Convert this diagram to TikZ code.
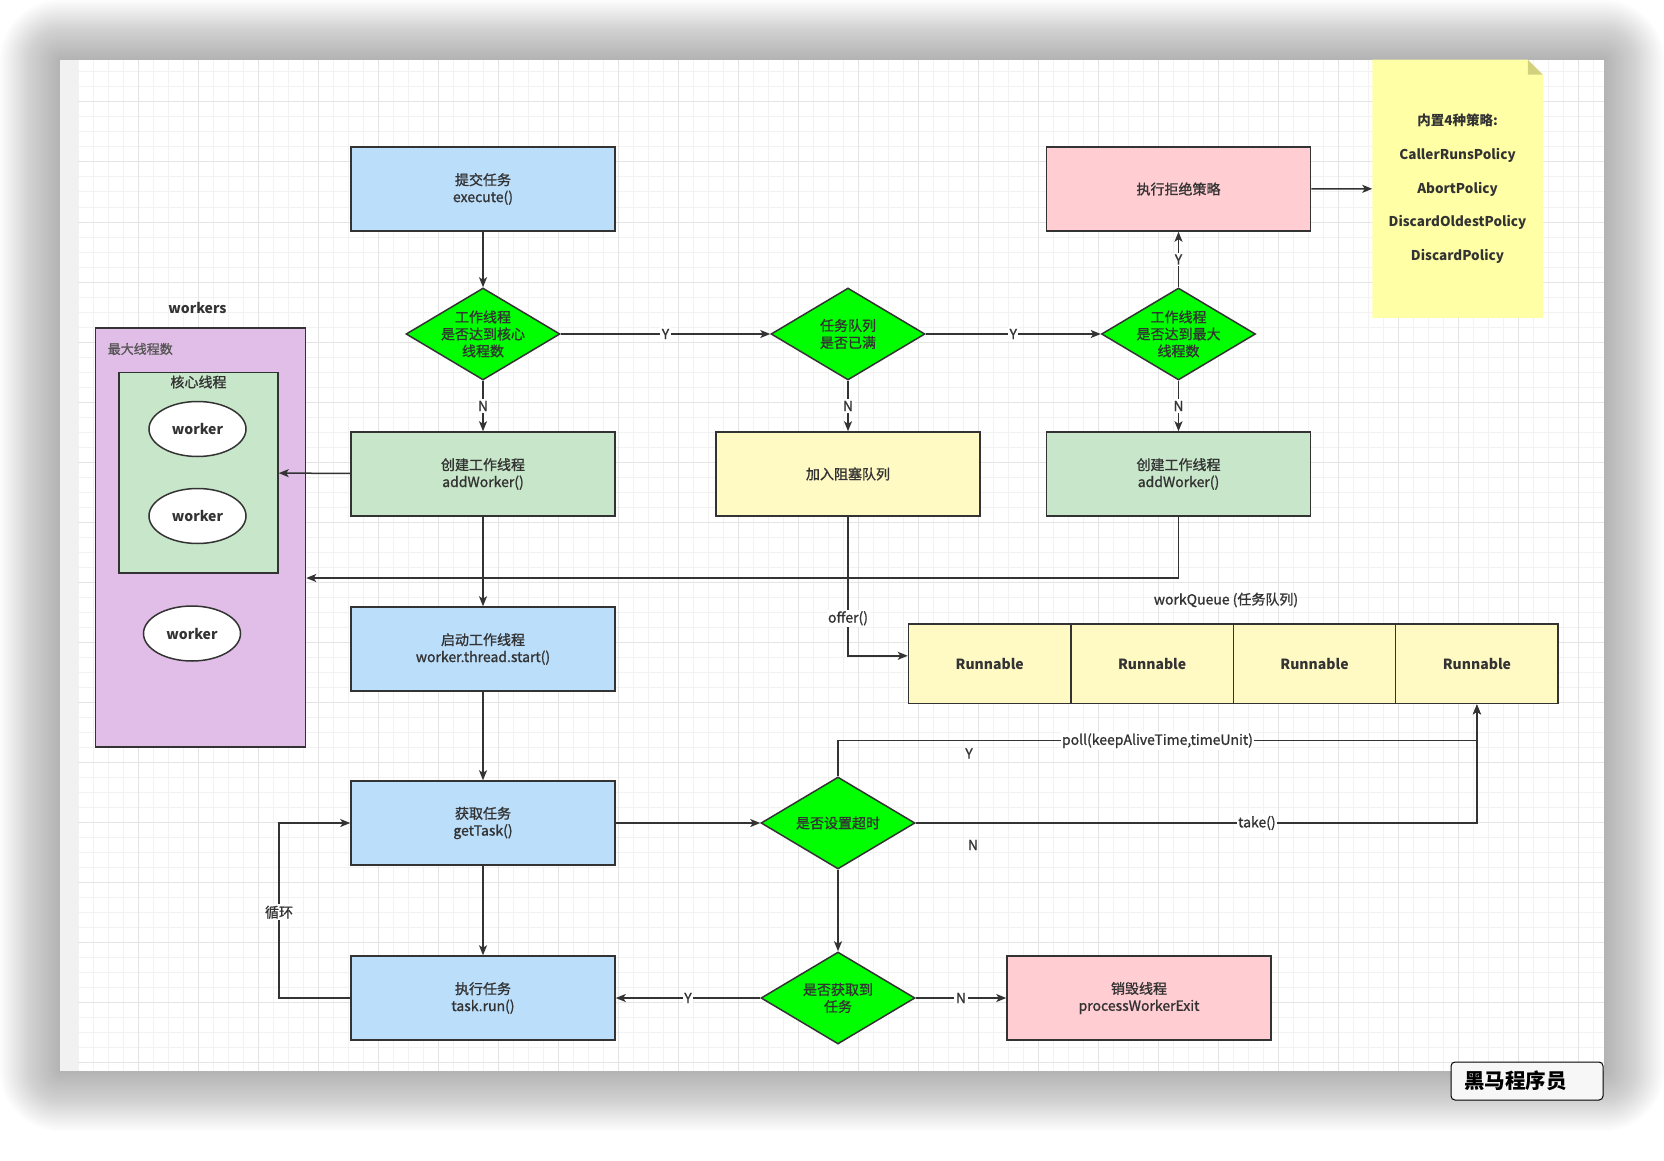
\documentclass[tikz,border=0pt]{standalone}
\usepackage{fontspec}
\setmainfont{Noto Sans CJK SC}[FakeBold=1.1, BoldFeatures={FakeBold=0}]
\usepackage{tikz}
\usetikzlibrary{shapes.geometric,arrows.meta}
\definecolor{lineg}{HTML}{333333}
\definecolor{blueb}{HTML}{BBDEFB}
\definecolor{greenb}{HTML}{C8E6C9}
\definecolor{pinkb}{HTML}{FFCDD2}
\definecolor{yellowb}{HTML}{FFF9C4}
\definecolor{purpleb}{HTML}{E1BEE7}
\definecolor{notey}{HTML}{FFFFA5}
\definecolor{notefold}{HTML}{D2D27E}
\definecolor{gridminor}{HTML}{F2F2F2}
\definecolor{gridmajor}{HTML}{E4E4E4}
\definecolor{stripg}{HTML}{F1F1F1}
\definecolor{graytxt}{HTML}{555555}

\begin{document}
\begin{tikzpicture}[x=1pt,y=-1pt,line width=1.5pt]
    \tikzstyle{every node}+=[inner sep=0pt, text=lineg, font=\fontsize{14}{17}\selectfont]
    \tikzstyle{box}=[draw=lineg, rectangle, minimum width=264, minimum height=84, align=center]
    \tikzstyle{dmd}=[draw=lineg, fill=green, diamond, aspect=1.67, inner sep=-4pt, minimum width=154, minimum height=92, align=center]
    \tikzstyle{cell}=[draw=lineg, fill=yellowb, minimum width=162.4, minimum height=79.6, font=\bfseries\fontsize{14}{17}\selectfont]
    \tikzstyle{wk}=[draw=lineg, fill=white, ellipse, minimum width=97, minimum height=55, font=\bfseries\fontsize{14}{17}\selectfont]
    \tikzstyle{flow}=[draw=lineg, -{Stealth[length=10pt,width=8pt,inset=2.5pt]}]
    \tikzstyle{lbl}=[fill=white, inner sep=1.5pt]
    \useasboundingbox (0,0) rectangle (1664,1161);
    \foreach \i in {1,...,30}
        \fill[black, opacity=0.01, rounded corners=\i*2] (60-2*\i,60-2*\i) rectangle (1604+2*\i,1071+2*\i);
    \fill[white] (60,60) rectangle (1604,1071);
    \fill[stripg] (60,60) rectangle (78,1071);
    \foreach \x in {78,93,...,1603}
        \draw[gridminor, line width=1pt] (\x,60) -- (\x,1071);
    \foreach \y in {72,87,...,1070}
        \draw[gridminor, line width=1pt] (78,\y) -- (1604,\y);
    \foreach \x in {138,198,...,1603}
        \draw[gridmajor, line width=1pt] (\x,60) -- (\x,1071);
    \foreach \y in {102,162,...,1070}
        \draw[gridmajor, line width=1pt] (78,\y) -- (1604,\y);
    \node[box, fill=blueb] (submit) at (483,189) {提交任务\\execute()};
    \node[dmd] (core) at (483,334) {工作线程\\是否达到核心\\线程数};
    \node[dmd] (full) at (848,334) {任务队列\\是否已满};
    \node[dmd] (max) at (1178.5,334) {工作线程\\是否达到最大\\线程数};
    \node[box, fill=pinkb] (reject) at (1178.5,189) {执行拒绝策略};
    \node[box, fill=greenb] (add1) at (483,474) {创建工作线程\\addWorker()};
    \node[box, fill=yellowb] (block) at (848,474) {加入阻塞队列};
    \node[box, fill=greenb] (add2) at (1178.5,474) {创建工作线程\\addWorker()};
    \node[box, fill=blueb] (start) at (483,649) {启动工作线程\\worker.thread.start()};
    \node[box, fill=blueb] (get) at (483,823) {获取任务\\getTask()};
    \node[box, fill=blueb] (run) at (483,998) {执行任务\\task.run()};
    \node[dmd] (timeout) at (838,823) {是否设置超时};
    \node[dmd] (got) at (838,998) {是否获取到\\任务};
    \node[box, fill=pinkb] (exit) at (1139,998) {销毁线程\\processWorkerExit};
    \node[minimum width=169, minimum height=256.5] (note) at (1457.5,188.75) {};
    \fill[notey] (note.north west) -- ([xshift=-15pt]note.north east) -- ([yshift=-15pt]note.north east) -- (note.south east) -- (note.south west) -- cycle;
    \fill[notefold] ([xshift=-15pt]note.north east) -- ([yshift=-15pt]note.north east) -- ([xshift=-15pt,yshift=-15pt]note.north east) -- cycle;
    \node[align=center, font=\bfseries\fontsize{13.5}{33.7}\selectfont] (notetext) at (note) {内置4种策略:\\CallerRunsPolicy\\AbortPolicy\\DiscardOldestPolicy\\DiscardPolicy};
    \node[font=\bfseries\fontsize{14}{17}\selectfont] (wlabel) at (197.5,308) {workers};
    \node[draw=lineg, fill=purpleb, minimum width=210, minimum height=419] (maxbox) at (200.5,537.5) {};
    \node[anchor=west, text=graytxt, font=\fontsize{13}{17}\selectfont] (maxlbl) at (107,349) {最大线程数};
    \node[draw=lineg, fill=greenb, minimum width=159, minimum height=200.5] (corebox) at (198.5,472.75) {};
    \node (corelbl) at (198.5,382) {核心线程};
    \node[wk] (w1) at (197.5,429) {worker};
    \node[wk] (w2) at (197.5,516) {worker};
    \node[wk] (w3) at (192,633.5) {worker};
    \node (qlabel) at (1226,600) {workQueue (任务队列)};
    \node[cell] (r1) at (989.7,663.8) {Runnable};
    \node[cell] (r2) at (1152.1,663.8) {Runnable};
    \node[cell] (r3) at (1314.5,663.8) {Runnable};
    \node[cell] (r4) at (1476.9,663.8) {Runnable};
    \coordinate (bend2) at (1178.5,578);
    \coordinate (pollc) at (1476.9,740.7);
    \coordinate (loopc) at (279,998);
    \draw[flow] (submit) -- (core);
    \draw[flow] (core) -- node[lbl] {N} (add1);
    \draw[flow] (core) -- node[lbl] {Y} (full);
    \draw[flow] (full) -- node[lbl] {N} (block);
    \draw[flow] (full) -- node[lbl] {Y} (max);
    \draw[flow] (max) -- node[lbl] {Y} (reject);
    \draw[flow] (max) -- node[lbl] {N} (add2);
    \draw[flow] (reject) -- (note);
    \draw[flow] (add1) -- (corebox);
    \draw[flow] (add2) -- (bend2) -- (bend2 -| maxbox.east);
    \draw[flow] (add1) -- (start);
    \draw[flow] (block.south) |- node[lbl, pos=0.365] {offer()} ([yshift=8pt]r1.west);
    \draw[flow] (start) -- (get);
    \draw[flow] (get) -- (timeout);
    \draw[flow] (timeout.north) |- node[lbl, pos=0.75] {poll(keepAliveTime,timeUnit)} (pollc) -- (r4.south);
    \draw[flow] (timeout.east) -| node[lbl, pos=0.304] {take()} (r4.south);
    \node (ylabel) at (969,753.5) {Y};
    \node (nlabel) at (973,845) {N};
    \draw[flow] (get) -- (run);
    \draw[flow] (timeout) -- (got);
    \draw[flow] (got) -- node[lbl] {Y} (run);
    \draw[flow] (got) -- node[lbl] {N} (exit);
    \draw[flow] (run.west) -- (loopc) |- node[lbl, pos=0.245] {循环} (get.west);
    \node[draw=black, fill=white!97!black, rounded corners=4, line width=1pt, minimum width=152, minimum height=38, text=black, font=\bfseries\fontsize{20.5}{24}\selectfont] (brand) at (1527,1081) {\hspace*{-23pt}黑马程序员};
\end{tikzpicture}
\end{document}
